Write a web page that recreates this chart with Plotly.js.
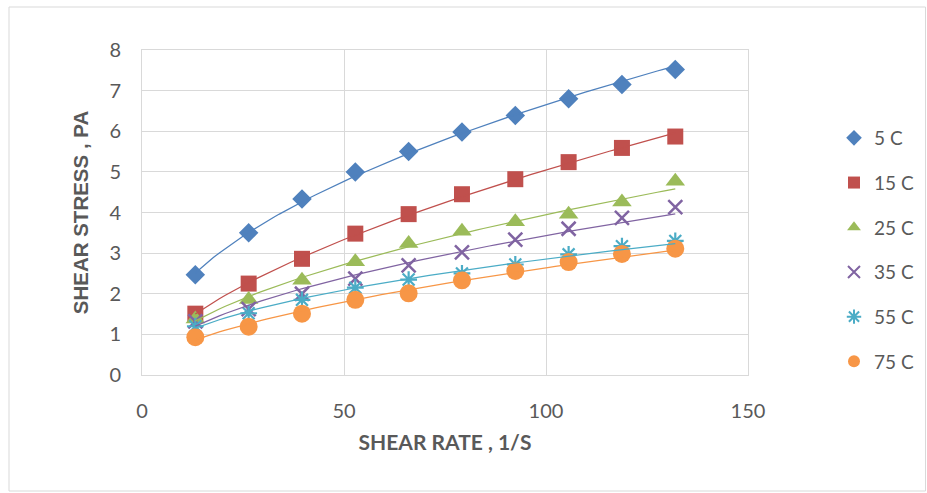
<!DOCTYPE html>
<html>
<head>
<meta charset="utf-8">
<script src="https://cdn.plot.ly/plotly-3.0.1.min.js"></script>
<style>
  html, body { margin: 0; padding: 0; background: #ffffff; }
  #chart { width: 927px; height: 493px; }
</style>
</head>
<body>
<div id="chart"></div>
<script>
// ---- data ----
const shearRate = [13.2, 26.4, 39.6, 52.8, 66, 79.2, 92.4, 105.6, 118.8, 132];
const stress5C  = [2.47, 3.50, 4.33, 5.00, 5.50, 5.98, 6.39, 6.80, 7.15, 7.52];
const stress15C = [1.51, 2.25, 2.86, 3.48, 3.96, 4.45, 4.82, 5.24, 5.59, 5.87];
const stress25C = [1.38, 1.86, 2.33, 2.79, 3.24, 3.54, 3.77, 3.96, 4.26, 4.77];
const stress35C = [1.32, 1.62, 2.00, 2.37, 2.70, 3.02, 3.33, 3.60, 3.87, 4.13];
const stress55C = [1.20, 1.52, 1.85, 2.15, 2.35, 2.50, 2.72, 2.97, 3.17, 3.30];
const stress75C = [0.93, 1.19, 1.51, 1.85, 2.01, 2.33, 2.56, 2.78, 2.98, 3.11];
const seriesNames = ['5 C', '15 C', '25 C', '35 C', '55 C', '75 C'];
const xTicks = [0, 50, 100, 150];
const yTicks = [0, 1, 2, 3, 4, 5, 6, 7, 8];

const allSeries = [stress5C, stress15C, stress25C, stress35C, stress55C, stress75C];
const colors = ['#4F81BD', '#C0504D', '#9BBB59', '#8064A2', '#4BACC6', '#F79646'];
const markers = [
  {symbol: 'diamond', size: 15},
  {symbol: 'square', size: 16},
  {symbol: 'triangle-up', size: 17},
  {symbol: 'x-thin-open', size: 14, lw: 2.5},
  {symbol: 'asterisk-open', size: 14, lw: 2.2},
  {symbol: 'circle', size: 18}
];

// power-law trendline (least squares in log space, as a spreadsheet trendline)
function powerFit(xs, ys) {
  const n = xs.length;
  let sx = 0, sy = 0, sxx = 0, sxy = 0;
  for (let i = 0; i < n; i++) {
    const lx = Math.log(xs[i]), ly = Math.log(ys[i]);
    sx += lx; sy += ly; sxx += lx * lx; sxy += lx * ly;
  }
  const b = (n * sxy - sx * sy) / (n * sxx - sx * sx);
  const a = Math.exp((sy - b * sx) / n);
  const x0 = Math.min(...xs), x1 = Math.max(...xs);
  const tx = [], ty = [];
  const steps = 80;
  for (let k = 0; k <= steps; k++) {
    const x = x0 + (x1 - x0) * k / steps;
    tx.push(x); ty.push(a * Math.pow(x, b));
  }
  return {tx, ty};
}

const traces = [];
allSeries.forEach((ys, i) => {
  const m = markers[i];
  const mk = {symbol: m.symbol, size: m.size, color: colors[i]};
  if (m.lw) mk.line = {color: colors[i], width: m.lw};
  traces.push({
    x: shearRate, y: ys, name: seriesNames[i], type: 'scatter', mode: 'markers',
    marker: mk, legendgroup: 'g' + i, cliponaxis: false
  });
});
allSeries.forEach((ys, i) => {
  const f = powerFit(shearRate, ys);
  traces.push({
    x: f.tx, y: f.ty, type: 'scatter', mode: 'lines', showlegend: false,
    legendgroup: 'g' + i, hoverinfo: 'skip',
    line: {color: colors[i], width: 1.25}
  });
});

const L = 142, R = 748, T = 50, B = 375;
const W = 927, H = 493;
const px = v => (v - L) / (R - L);
const py = v => (B - v) / (B - T);

const layout = {
  width: W, height: H,
  margin: {l: L, r: W - R, t: T, b: H - B, pad: 0, autoexpand: false},
  paper_bgcolor: '#ffffff', plot_bgcolor: '#ffffff',
  font: {family: 'Lato, "Open Sans", sans-serif', color: '#595959', size: 20},
  showlegend: true,
  legend: {
    x: px(834), y: py(119), xanchor: 'left', yanchor: 'top',
    font: {family: 'Lato, sans-serif', size: 19, color: '#595959'},
    itemsizing: 'constant', traceorder: 'grouped', tracegroupgap: 17,
    bgcolor: 'rgba(0,0,0,0)'
  },
  xaxis: {
    range: [0, 150], tickvals: xTicks, ticktext: xTicks.map(String),
    showgrid: true, gridcolor: '#D9D9D9', gridwidth: 1,
    zeroline: false, showline: true, mirror: true, linecolor: '#D9D9D9', linewidth: 1,
    ticks: '', ticklabelstandoff: 18,
    tickfont: {family: 'Lato, sans-serif', size: 20, color: '#595959'},
    title: {text: 'SHEAR RATE , 1/S', standoff: 14,
      font: {family: 'Lato, sans-serif', size: 21, color: '#595959', weight: 'bold'}}
  },
  yaxis: {
    range: [0, 8], tickvals: yTicks, ticktext: yTicks.map(String),
    showgrid: true, gridcolor: '#D9D9D9', gridwidth: 1,
    zeroline: false, showline: true, mirror: true, linecolor: '#D9D9D9', linewidth: 1,
    ticks: '', ticklabelstandoff: 16,
    tickfont: {family: 'Lato, sans-serif', size: 20, color: '#595959'},
    title: {text: 'SHEAR STRESS , PA', standoff: 15,
      font: {family: '"Liberation Sans", Arial, sans-serif', size: 20.5, color: '#595959', weight: 'bold'}}
  },
  shapes: [{
    type: 'rect', xref: 'paper', yref: 'paper', layer: 'below',
    x0: px(9), x1: px(925.5), y0: py(491), y1: py(7),
    line: {color: '#D9D9D9', width: 1}, fillcolor: 'rgba(0,0,0,0)'
  }]
};

Plotly.newPlot('chart', traces, layout, {displayModeBar: false, staticPlot: true});
</script>
</body>
</html>
